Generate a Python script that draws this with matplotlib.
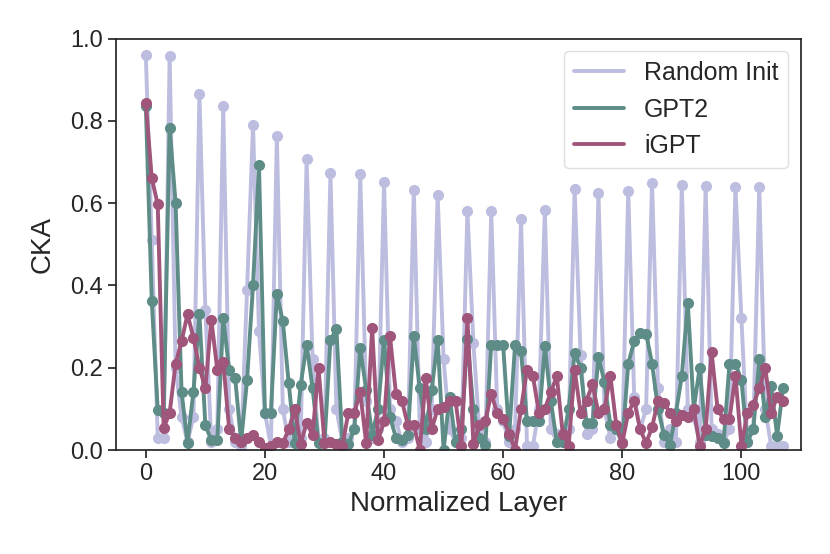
import numpy as np
import matplotlib
matplotlib.use('Agg')
import matplotlib.pyplot as plt
from matplotlib.lines import Line2D
import seaborn as sns

random_init = [
    0.96, 0.51, 0.03, 0.03, 0.957, 0.2, 0.08, 0.02, 0.08, 0.865,
    0.34, 0.02, 0.05, 0.836, 0.1, 0.02, 0.01, 0.39, 0.789, 0.29,
    0.09, 0.01, 0.763, 0.1, 0.02, 0.1, 0.03, 0.706, 0.22, 0.02,
    0.03, 0.673, 0.1, 0.02, 0.03, 0.05, 0.67, 0.12, 0.03, 0.05,
    0.652, 0.1, 0.07, 0.02, 0.03, 0.633, 0.05, 0.02, 0.1, 0.62,
    0.22, 0.05, 0.02, 0.03, 0.582, 0.26, 0.05, 0.02, 0.58, 0.1,
    0.07, 0.02, 0.05, 0.561, 0.01, 0.01, 0.1, 0.584, 0.05, 0.04,
    0.02, 0.05, 0.634, 0.23, 0.04, 0.05, 0.624, 0.1, 0.03, 0.05,
    0.02, 0.63, 0.13, 0.05, 0.1, 0.65, 0.15, 0.02, 0.05, 0.02,
    0.644, 0.1, 0.08, 0.02, 0.642, 0.05, 0.04, 0.02, 0.05, 0.638,
    0.32, 0.02, 0.05, 0.64, 0.1, 0.01, 0.01, 0.01,
]

gpt2 = [
    0.836, 0.362, 0.098, 0.09, 0.783, 0.6, 0.142, 0.017, 0.142, 0.33,
    0.06, 0.024, 0.024, 0.32, 0.195, 0.175, 0.02, 0.17, 0.4, 0.693,
    0.09, 0.09, 0.38, 0.313, 0.162, 0.017, 0.158, 0.256, 0.15, 0.017,
    0.017, 0.268, 0.293, 0.02, 0.015, 0.05, 0.248, 0.146, 0.037, 0.1,
    0.268, 0.08, 0.03, 0.025, 0.037, 0.276, 0.15, 0.05, 0.146, 0.268,
    0.0, 0.13, 0.02, 0.05, 0.27, 0.1, 0.03, 0.012, 0.256, 0.256,
    0.254, 0.035, 0.256, 0.24, 0.07, 0.07, 0.07, 0.252, 0.12, 0.02,
    0.02, 0.1, 0.236, 0.2, 0.065, 0.065, 0.226, 0.166, 0.06, 0.05,
    0.017, 0.21, 0.264, 0.285, 0.283, 0.21, 0.1, 0.037, 0.012, 0.09,
    0.18, 0.358, 0.1, 0.2, 0.037, 0.035, 0.03, 0.017, 0.21, 0.21,
    0.17, 0.02, 0.05, 0.22, 0.08, 0.155, 0.035, 0.15,
]

igpt = [
    0.844, 0.66, 0.597, 0.053, 0.09, 0.21, 0.264, 0.33, 0.273, 0.2,
    0.15, 0.317, 0.195, 0.215, 0.05, 0.03, 0.02, 0.03, 0.037, 0.02,
    0.005, 0.01, 0.02, 0.017, 0.05, 0.1, 0.015, 0.066, 0.037, 0.2,
    0.017, 0.02, 0.015, 0.01, 0.09, 0.09, 0.14, 0.017, 0.297, 0.024,
    0.07, 0.276, 0.137, 0.12, 0.06, 0.06, 0.0, 0.175, 0.05, 0.1,
    0.105, 0.12, 0.12, 0.01, 0.32, 0.015, 0.06, 0.07, 0.137, 0.09,
    0.075, 0.04, 0.0, 0.1, 0.195, 0.18, 0.09, 0.1, 0.14, 0.18,
    0.04, 0.01, 0.195, 0.09, 0.12, 0.16, 0.09, 0.1, 0.18, 0.06,
    0.017, 0.09, 0.12, 0.05, 0.017, 0.055, 0.12, 0.115, 0.09, 0.07,
    0.085, 0.08, 0.1, 0.01, 0.05, 0.237, 0.1, 0.075, 0.075, 0.18,
    0.01, 0.09, 0.11, 0.15, 0.2, 0.09, 0.13, 0.12,
]

labels = ['Random Init', 'GPT2', 'iGPT']
colors = ['#bdbde0', '#5e8c87', '#a0557a']

layers = np.arange(len(random_init))

sns.set_style('ticks')
plt.rcParams['font.family'] = ['Liberation Sans', 'DejaVu Sans']

fig = plt.figure(figsize=(8.3, 5.54), dpi=100)
ax = fig.add_axes([0.1398, 0.1877, 0.965 - 0.1398, 0.9305 - 0.1877])

for series, lab, c in zip([random_init, gpt2, igpt], labels, colors):
    ax.plot(layers, series, '-o', color=c, lw=2.8, ms=7, label=lab)

ax.set_xlim(-5, 110)
ax.set_ylim(0, 1.0)
ax.set_xticks([0, 20, 40, 60, 80, 100])
ax.set_yticks([0.0, 0.2, 0.4, 0.6, 0.8, 1.0])
ax.set_yticklabels(['0.0', '0.2', '0.4', '0.6', '0.8', '1.0'])
ax.tick_params(labelsize=17, length=6, width=1.25, color='#262626')
for s in ax.spines.values():
    s.set_color('#262626')
    s.set_linewidth(1.25)

ax.set_xlabel('Normalized Layer', fontsize=20, color='#262626', labelpad=4)
ax.set_ylabel('CKA', fontsize=20, color='#262626', labelpad=10)

# legend shows plain lines, no markers
handles = [Line2D([], [], color=c, lw=2.8) for c in colors]
leg = ax.legend(handles, labels, loc='upper right', fontsize=18, frameon=True)
leg.get_frame().set_edgecolor('#d6d6d6')

fig.savefig('out.png', dpi=100)
